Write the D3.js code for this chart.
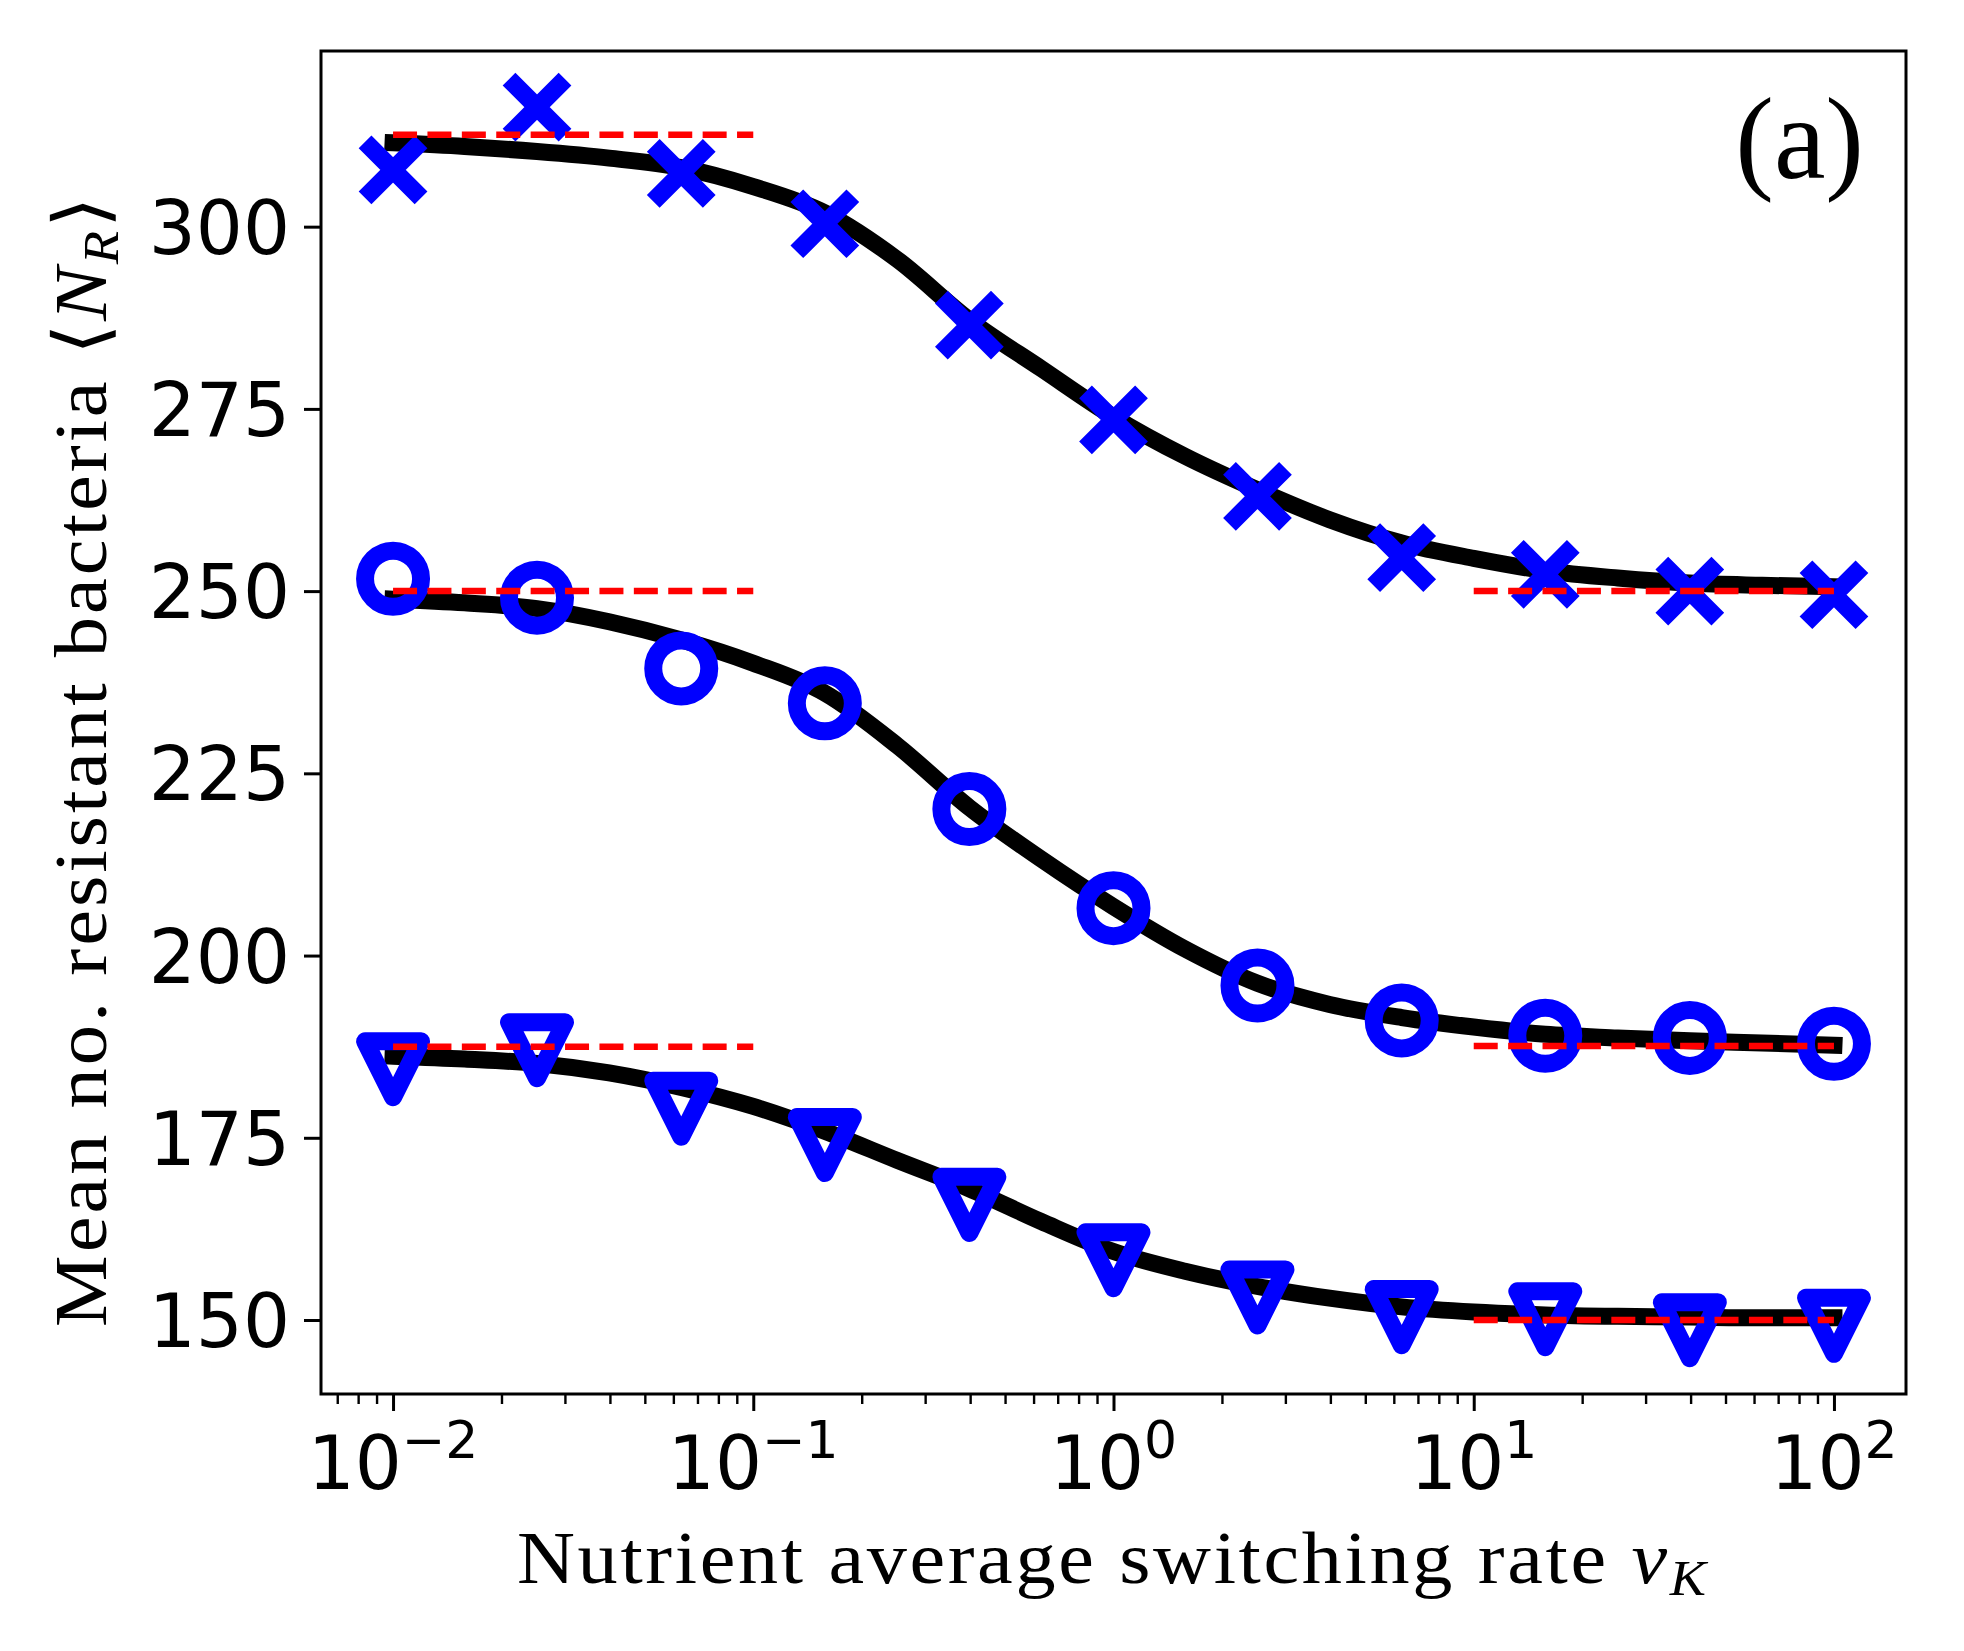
<!DOCTYPE html>
<html>
<head>
<meta charset="utf-8">
<script src="https://cdn.jsdelivr.net/npm/d3@7"></script>
<style>
  html, body { margin: 0; padding: 0; background: #fff; }
  svg { display: block; }
</style>
</head>
<body>
<svg id="chart" width="1964" height="1651"></svg>
<script>
// ---- data ----
const rates = [0.01, 0.0251, 0.0631, 0.158, 0.398, 1, 2.51, 6.31, 15.8, 39.8, 100];
const crossValues    = [307.8, 316.4, 307.3, 300.4, 286.5, 273.5, 263.0, 254.6, 252.3, 250.0, 249.5];
const circleValues   = [251.7, 249.1, 239.4, 234.6, 220.1, 206.5, 195.9, 191.1, 189.0, 188.7, 187.9];
const triangleValues = [184.4, 187.0, 179.0, 174.0, 165.8, 158.2, 153.1, 150.4, 150.1, 148.6, 149.2];

const curveRates = [0.01, 0.0158, 0.0251, 0.0398, 0.0631, 0.1, 0.158, 0.251, 0.398, 0.631, 1,
                    1.58, 2.51, 3.98, 6.31, 10, 15.8, 25.1, 39.8, 63.1, 100];
const crossCurve    = [311.5, 311.0, 310.3, 309.4, 308.1, 305.5, 301.9, 295.5, 287.2, 280.5, 273.9,
                       268.5, 263.9, 259.8, 256.6, 254.5, 252.8, 251.8, 251.1, 250.8, 250.6];
const circleCurve   = [248.9, 248.4, 247.6, 245.8, 243.3, 240.1, 236.0, 228.8, 220.3, 213.2, 206.7,
                       200.9, 196.2, 193.3, 191.5, 190.2, 189.2, 188.7, 188.3, 188.0, 187.7];
const triangleCurve = [186.2, 185.8, 185.2, 183.9, 181.9, 179.3, 175.9, 171.9, 168.0, 163.5, 159.4,
                       156.7, 154.6, 153.0, 151.8, 151.1, 150.7, 150.5, 150.4, 150.3, 150.3];

// dashed limits
const lowRateLimits  = [312.6, 250.0, 187.5];
const highRateLimits = [250.0, 187.6, 150.0];
const lowRange  = [0.01, 0.1];
const highRange = [10, 100];

const yTicks = [150, 175, 200, 225, 250, 275, 300];
const xMajorExps = [-2, -1, 0, 1, 2];
const xLabel = "Nutrient average switching rate";
const yLabel = "Mean no. resistant bacteria";
const panelLabel = "(a)";

// ---- layout ----
const L = 321, R = 1906, T = 51, B = 1394;
const svg = d3.select("#chart");

const x = d3.scaleLog().domain([Math.pow(10, -2.2), Math.pow(10, 2.2)]).range([L, R]);
const y = d3.scaleLinear().domain([139.85, 324.1]).range([B, T]);

const tickFont = "DejaVu Sans, Verdana, sans-serif";
const serif = "Liberation Serif, Times New Roman, serif";

// ---- curves ----
const line = d3.line().x(d => x(d[0])).y(d => y(d[1])).curve(d3.curveMonotoneX);
const plot = svg.append("g");
[crossCurve, circleCurve, triangleCurve].forEach(c => {
  plot.append("path")
    .attr("d", line(curveRates.map((r, i) => [r, c[i]])))
    .attr("fill", "none").attr("stroke", "#000")
    .attr("stroke-width", 17).attr("stroke-linecap", "square").attr("stroke-linejoin", "round");
});

// ---- markers ----
const ms = 56, mew = 18, blue = "#0000ff";
const a = ms / 2;
plot.append("g").selectAll("path").data(rates.map((r, i) => [r, crossValues[i]])).join("path")
  .attr("transform", d => `translate(${x(d[0])},${y(d[1])})`)
  .attr("d", `M${-a},${-a}L${a},${a}M${-a},${a}L${a},${-a}`)
  .attr("fill", "none").attr("stroke", blue).attr("stroke-width", mew).attr("stroke-linecap", "butt");

plot.append("g").selectAll("circle").data(rates.map((r, i) => [r, circleValues[i]])).join("circle")
  .attr("cx", d => x(d[0])).attr("cy", d => y(d[1])).attr("r", a)
  .attr("fill", "none").attr("stroke", blue).attr("stroke-width", mew);

plot.append("g").selectAll("path").data(rates.map((r, i) => [r, triangleValues[i]])).join("path")
  .attr("transform", d => `translate(${x(d[0])},${y(d[1])})`)
  .attr("d", `M0,${a}L${-a},${-a}L${a},${-a}Z`)
  .attr("fill", "none").attr("stroke", blue).attr("stroke-width", mew).attr("stroke-linejoin", "round");

// ---- dashed limits ----
function dashed(v, rng) {
  plot.append("line")
    .attr("x1", x(rng[0])).attr("x2", x(rng[1])).attr("y1", y(v)).attr("y2", y(v))
    .attr("stroke", "#ff0000").attr("stroke-width", 6.5).attr("stroke-dasharray", "24,10.4")
    .attr("stroke-linecap", "butt");
}
lowRateLimits.forEach(v => dashed(v, lowRange));
highRateLimits.forEach(v => dashed(v, highRange));

// ---- axes ----
const axisG = svg.append("g");
const yAxis = d3.axisLeft(y).tickValues(yTicks).tickSize(17).tickPadding(14).tickFormat(d3.format("d"));
const ya = axisG.append("g").attr("transform", `translate(${L},0)`).call(yAxis);
ya.select(".domain").remove();
ya.selectAll(".tick line").attr("stroke", "#000").attr("stroke-width", 3);
ya.selectAll(".tick text").attr("font-family", tickFont).attr("font-size", 74)
  .attr("fill", "#000").attr("dy", "0.36em");

const xa = axisG.append("g").attr("transform", `translate(0,${B})`)
  .call(d3.axisBottom(x).tickValues(xMajorExps.map(e => Math.pow(10, e))).tickSize(17).tickFormat(""));
xa.select(".domain").remove();
xa.selectAll(".tick line").attr("stroke", "#000").attr("stroke-width", 3);
const minor = [];
for (let e = -3; e <= 2; e++) for (let m = 2; m <= 9; m++) {
  const v = m * Math.pow(10, e);
  if (v > x.domain()[0] && v < x.domain()[1]) minor.push(v);
}
const xm = axisG.append("g").attr("transform", `translate(0,${B})`)
  .call(d3.axisBottom(x).tickValues(minor).tickSize(10).tickFormat(""));
xm.select(".domain").remove();
xm.selectAll(".tick line").attr("stroke", "#000").attr("stroke-width", 2.4);

xMajorExps.forEach(e => {
  const t = axisG.append("text")
    .attr("x", x(Math.pow(10, e))).attr("y", 1489)
    .attr("text-anchor", "middle").attr("font-family", tickFont).attr("font-size", 74).attr("fill", "#000");
  t.append("tspan").text("10");
  t.append("tspan").attr("font-size", 52).attr("dy", -31).text(e < 0 ? "\u2212" + Math.abs(e) : String(e));
});

axisG.append("rect").attr("x", L).attr("y", T).attr("width", R - L).attr("height", B - T)
  .attr("fill", "none").attr("stroke", "#000").attr("stroke-width", 3);

// ---- labels: widen partly by glyph scale, partly by letter spacing ----
function fitLabel(build, target, cx, cy, rotate, size) {
  const g = svg.append("g");
  const t = g.append("text").attr("font-family", serif).attr("font-size", size).attr("fill", "#000");
  build(t);
  const w0 = t.node().getBBox().width;
  const sx = Math.sqrt(target / w0);
  const n = t.text().length;
  t.attr("letter-spacing", (target / sx - w0) / n);
  const w = t.node().getBBox().width;
  g.attr("transform", `translate(${cx},${cy}) rotate(${rotate}) scale(${target / w},1) translate(${-w / 2},0)`);
}
fitLabel(t => {
  t.append("tspan").text(xLabel + " ");
  t.append("tspan").attr("font-style", "italic").text("\u03BD");
  t.append("tspan").attr("font-style", "italic").attr("font-size", 50).attr("dy", 12).text("K");
}, 1192, 1113, 1583, 0, 74);

fitLabel(t => {
  t.append("tspan").text(yLabel + " \u27E8");
  t.append("tspan").attr("font-style", "italic").text("N");
  t.append("tspan").attr("font-style", "italic").attr("font-size", 50).attr("dy", 12).text("R");
  t.append("tspan").attr("dy", -12).text("\u27E9");
}, 1134, 106, 760, -90, 74);

svg.append("text").attr("x", 1864).attr("y", 178).attr("text-anchor", "end")
  .attr("font-family", serif).attr("font-size", 116).attr("fill", "#000").text(panelLabel);
</script>
</body>
</html>
